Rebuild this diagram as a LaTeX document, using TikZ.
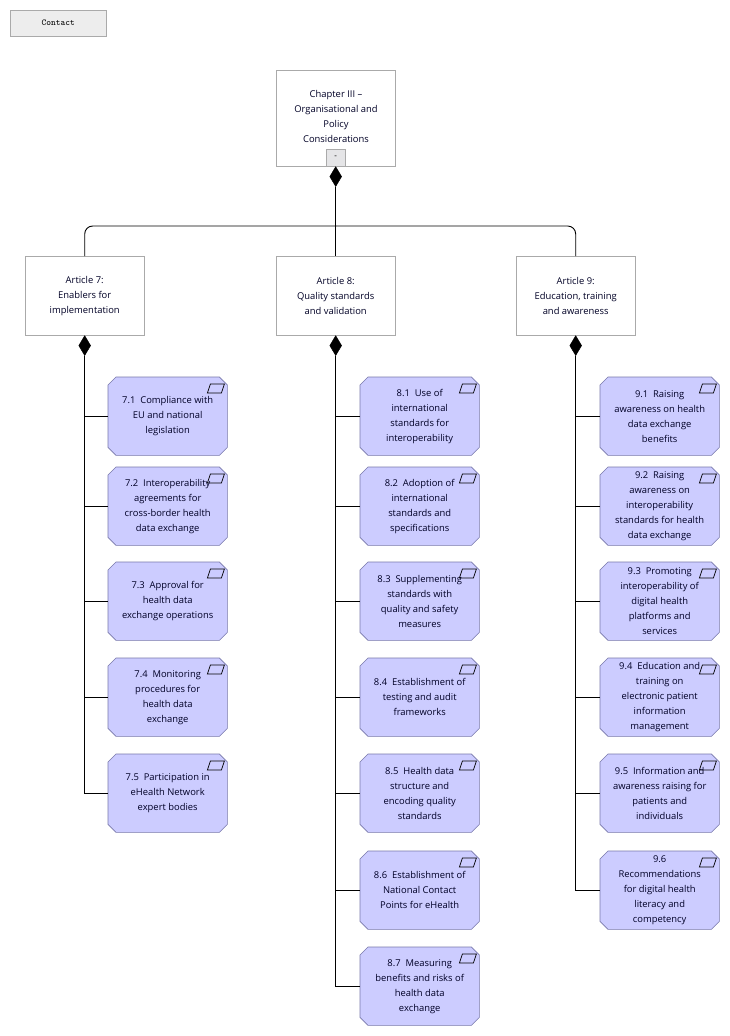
\documentclass[tikz,border=0pt]{standalone}
\usepackage{fontspec}
\setmainfont{Open Sans}
\usetikzlibrary{calc,shapes.geometric}
\definecolor{leaf}{RGB}{204,204,255}
\definecolor{leafb}{RGB}{120,120,170}
\definecolor{boxb}{RGB}{170,170,170}
\tikzset{
  x=1pt,y=-1pt,
  txt/.style={font=\fontsize{9.4}{15}\selectfont,align=center,text=black!85!blue},
  art/.style={draw=boxb,fill=white,minimum width=119pt,minimum height=79pt,anchor=north west,txt},
  leafn/.style={minimum width=119pt,minimum height=78pt,anchor=north west,inner sep=0pt},
  con/.style={draw=black,line width=0.9pt},
  dia/.style={diamond,fill=black,draw=black,inner sep=0pt,minimum width=12pt,minimum height=20pt,anchor=north},
}
\newcommand\leaf[4]{%
  \node[leafn] (#1) at (#2,#3) {};
  \fill[leaf,draw=leafb,line width=0.6pt]
    ($(#1.north west)+(8,0)$) -- ($(#1.north east)+(-8,0)$) -- ($(#1.north east)+(0,8)$)
    -- ($(#1.south east)+(0,-8)$) -- ($(#1.south east)+(-8,0)$) -- ($(#1.south west)+(8,0)$)
    -- ($(#1.south west)+(0,-8)$) -- ($(#1.north west)+(0,8)$) -- cycle;
  \draw[line width=0.7pt] ($(#1.north east)+(-20,16)$) -- ($(#1.north east)+(-6,16)$)
    -- ($(#1.north east)+(-3,7)$) -- ($(#1.north east)+(-17,7)$) -- cycle;
  \node[txt] at (#1.center) {#4};}
\begin{document}
\begin{tikzpicture}
\useasboundingbox (0,0) rectangle (730,1036);
\fill[white] (0,0) rectangle (730,1036);
% contact
\node[draw=boxb,fill=black!7,minimum width=96pt,minimum height=26pt,anchor=north west,font=\ttfamily\fontsize{9}{10}\selectfont] (contact) at (10,10) {Contact};
% chapter
\node[art,minimum height=96pt] (ch) at (276,70) {};
\node[txt,anchor=north] at (336,87) {Chapter III --\\Organisational and\\Policy\\Considerations};
\node[draw=boxb,fill=blue!5!black!10,minimum width=19pt,minimum height=17pt,anchor=south,inner sep=0pt,font=\fontsize{8}{8}\selectfont] (tog) at (ch.south) {-};
\node[dia] (d0) at (ch.south) {};
% articles
\node[art] (a7) at (25,256) {Article 7:\\Enablers for\\implementation};
\node[art] (a8) at (276,256) {Article 8:\\Quality standards\\and validation};
\node[art] (a9) at (516,256) {Article 9:\\Education, training\\and awareness};
\coordinate (j) at (336,226);
\draw[con] (d0.south) -- (a8.north);
\draw[con,rounded corners=8pt] (j) -| (a7.north);
\draw[con,rounded corners=8pt] (j) -| (a9.north);
\node[dia] (d7) at (a7.south) {};
\node[dia] (d8) at (a8.south) {};
\node[dia] (d9) at (a9.south) {};
% leaves
\leaf{l71}{108}{377}{7.1~ Compliance with\\EU and national\\legislation}
\leaf{l72}{108}{467}{7.2~ Interoperability\\agreements for\\cross-border health\\data exchange}
\leaf{l73}{108}{562}{7.3~ Approval for\\health data\\exchange operations}
\leaf{l74}{108}{658}{7.4~ Monitoring\\procedures for\\health data\\exchange}
\leaf{l75}{108}{754}{7.5~ Participation in\\eHealth Network\\expert bodies}
\leaf{l81}{360}{377}{8.1~ Use of\\international\\standards for\\interoperability}
\leaf{l82}{360}{467}{8.2~ Adoption of\\international\\standards and\\specifications}
\leaf{l83}{360}{562}{8.3~ Supplementing\\standards with\\quality and safety\\measures}
\leaf{l84}{360}{658}{8.4~ Establishment of\\testing and audit\\frameworks}
\leaf{l85}{360}{754}{8.5~ Health data\\structure and\\encoding quality\\standards}
\leaf{l86}{360}{851}{8.6~ Establishment of\\National Contact\\Points for eHealth}
\leaf{l87}{360}{947}{8.7~ Measuring\\benefits and risks of\\health data\\exchange}
\leaf{l91}{600}{377}{9.1~ Raising\\awareness on health\\data exchange\\benefits}
\leaf{l92}{600}{467}{9.2~ Raising\\awareness on\\interoperability\\standards for health\\data exchange}
\leaf{l93}{600}{562}{9.3~ Promoting\\interoperability of\\digital health\\platforms and\\services}
\leaf{l94}{600}{658}{9.4~ Education and\\training on\\electronic patient\\information\\management}
\leaf{l95}{600}{754}{9.5~ Information and\\awareness raising for\\patients and\\individuals}
\leaf{l96}{600}{851}{9.6\\Recommendations\\for digital health\\literacy and\\competency}
% connectors
\foreach \l in {l71,l72,l73,l74,l75}{\draw[con] (d7.south) |- (\l.west);}
\foreach \l in {l81,l82,l83,l84,l85,l86,l87}{\draw[con] (d8.south) |- (\l.west);}
\foreach \l in {l91,l92,l93,l94,l95,l96}{\draw[con] (d9.south) |- (\l.west);}
\end{tikzpicture}
\end{document}
